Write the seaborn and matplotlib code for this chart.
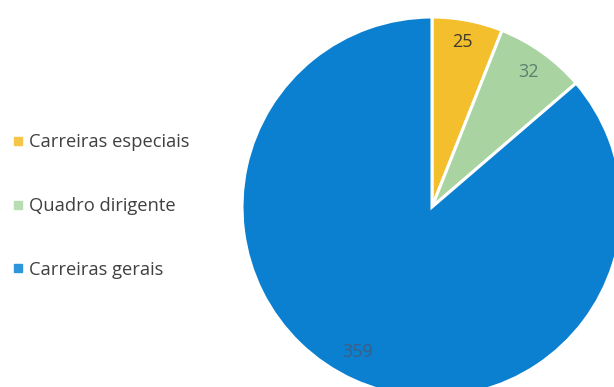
import numpy as np
import matplotlib
matplotlib.use("Agg")
import matplotlib.pyplot as plt
from matplotlib.lines import Line2D
import seaborn as sns

categories = ["Carreiras especiais", "Quadro dirigente", "Carreiras gerais"]
values = [25, 32, 359]
colors = ["#F4BF2C", "#A9D4A2", "#0B7FD0"]
label_colors = ["#3F3A2E", "#5E7E6C", "#3C5F86"]

sns.set_theme(style="white")
plt.rcParams["font.family"] = ["Open Sans", "DejaVu Sans"]

W, H = 614, 387
fig = plt.figure(figsize=(W / 100, H / 100), dpi=100)
ax = fig.add_axes([0, 0, 1, 1])

wedges, texts, autotexts = ax.pie(
    values,
    colors=colors,
    startangle=90,
    counterclock=False,
    center=(432, H - 207),
    radius=190,
    autopct=lambda p: f"{p * sum(values) / 100:.0f}",
    pctdistance=0.87,
    wedgeprops=dict(edgecolor="white", linewidth=2.2),
    textprops=dict(fontsize=13),
    frame=True,
)
for t, c in zip(autotexts, label_colors):
    t.set_color(c)

# small offsets for the value labels
x, y = autotexts[0].get_position()
autotexts[0].set_position((x - 1, y + 3))
x, y = autotexts[1].get_position()
autotexts[1].set_position((x + 1, y))
x, y = autotexts[2].get_position()
autotexts[2].set_position((x - 5, y + 5))

ax.set_xlim(0, W)
ax.set_ylim(0, H)
ax.set_aspect("equal")
ax.axis("off")

handles = [
    Line2D([], [], marker="s", linestyle="none", markersize=6,
           markerfacecolor=c, markeredgecolor=c)
    for c in ["#F6C64A", "#B9DDB3", "#2C95DB"]
]
leg = ax.legend(
    handles, categories,
    loc="center left",
    bbox_to_anchor=(4 / W, 1 - 206 / H),
    frameon=False,
    fontsize=13.2,
    labelspacing=2.5,
    handlelength=0.55,
    handletextpad=0.3,
    borderpad=0,
)
for t in leg.get_texts():
    t.set_color("#404040")

fig.savefig("out.png", dpi=100)
